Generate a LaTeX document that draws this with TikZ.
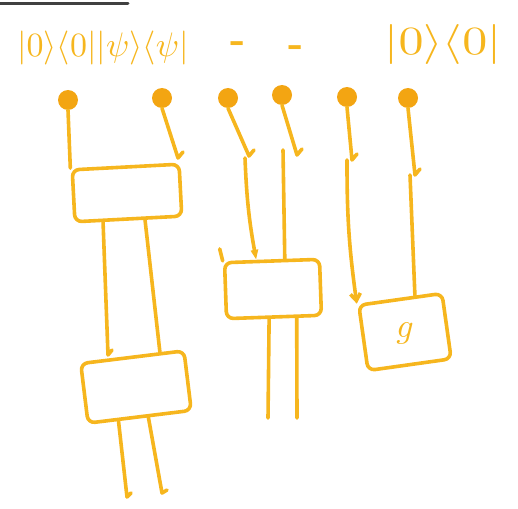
\documentclass[tikz,border=0pt]{standalone}
\usetikzlibrary{arrows.meta,calc}
\definecolor{pen}{RGB}{246,182,30}
\definecolor{blob}{RGB}{243,165,18}
\begin{document}
\begin{tikzpicture}[x=1pt,y=-1pt, line cap=round, line join=round,
  wire/.style={draw=pen, line width=3.6pt},
  qb/.style={circle, fill=blob, minimum size=20pt, inner sep=0pt},
  gate/.style={draw=pen, line width=3.6pt, rounded corners=7pt, inner sep=0pt},
  lbl/.style={text=pen, inner sep=0pt},
  tipA/.style={-{Triangle[length=10pt,width=7pt]}},
  tipB/.style={-{Straight Barb[length=7pt,width=10pt]}}]
\useasboundingbox (0,0) rectangle (518,508);
\draw[line width=3pt, black!75] (0,4) -- (128,4);

% labels
\node[lbl, scale=3.4] (t1) at (103,48) {$|0\rangle\langle0||\psi\rangle\langle\psi|$};
\node[lbl, scale=4, font=\bfseries] (d1) at (238,47) {-};
\node[lbl, scale=4, font=\bfseries] (d2) at (296,51) {-};
\node[lbl, xscale=5, yscale=4] (t2) at (443,45) {$|0\rangle\langle0|$};

% qubit blobs
\node[qb] (b1) at (68,100) {};
\node[qb] (b2) at (162,98) {};
\node[qb] (b3) at (228,98) {};
\node[qb] (b4) at (282,95) {};
\node[qb] (b5) at (347,97) {};
\node[qb] (b6) at (408,98) {};

% boxes
\node[gate, minimum width=107pt, minimum height=52pt, rotate=3] (B1) at (127,193) {};
\node[gate, minimum width=104pt, minimum height=60pt, rotate=7] (B2) at (136,387) {};
\node[gate, minimum width=95pt, minimum height=56pt, rotate=2] (B3) at (273,289) {};
\node[gate, minimum width=84pt, minimum height=66pt, rotate=8] (B4) at (405,332) {};
\node[lbl, scale=3.4] (g) at (405,333) {$g$};
\draw[wire] (B3.north west) -- ++(-3,-12);

% coordinates for hooks and free ends
\coordinate (h2) at (178,158);
\coordinate (h3) at (249,156);
\coordinate (s3) at (245,158);
\coordinate (h4) at (297,155);
\coordinate (s4) at (283,150);
\coordinate (h5) at (352,160);
\coordinate (s5) at (347,160);
\coordinate (h6) at (415,175);
\coordinate (s6) at (410,175);
\coordinate (e1) at (108,355);
\coordinate (o1) at (127,497);
\coordinate (o2) at (162,493);
\coordinate (o3) at (268,418);
\coordinate (o4) at (297,418);

% wires from qubits
\draw[wire] (b1.south) -- (B1.north west);
\draw[wire] (b2.south) -- (h2) -- ++(5,-6);
\draw[wire] (b3.south) -- (h3) -- ++(5,-6);
\draw[wire] (b4.south) -- (h4) -- ++(5,-6);
\draw[wire] (b5.south) -- (h5) -- ++(5,-6);
\draw[wire] (b6.south) -- (h6) -- ++(5,-6);

% continuations into boxes
\draw[wire, tipA] (s3) to[bend right=4] ($(B3.north west)!0.34!(B3.north east)$);
\draw[wire] (s4) -- ($(B3.north west)!0.63!(B3.north east)$);
\draw[wire, tipB] (s5) to[bend right=4] (B4.north west);
\draw[wire] (s6) -- ($(B4.north west)!0.67!(B4.north east)$);

% between box 1 and box 2
\draw[wire] ($(B1.south west)!0.27!(B1.south east)$) -- (e1) -- ++(4,-5);
\draw[wire] ($(B1.south west)!0.65!(B1.south east)$) -- ($(B2.north west)!0.76!(B2.north east)$);

% outputs
\draw[wire] ($(B2.south west)!0.3!(B2.south east)$) -- (o1) -- ++(4,-4);
\draw[wire] ($(B2.south west)!0.58!(B2.south east)$) -- (o2) -- ++(5,-3);
\draw[wire] ($(B3.south west)!0.45!(B3.south east)$) -- (o3);
\draw[wire] ($(B3.south west)!0.73!(B3.south east)$) -- (o4);
\end{tikzpicture}
\end{document}
